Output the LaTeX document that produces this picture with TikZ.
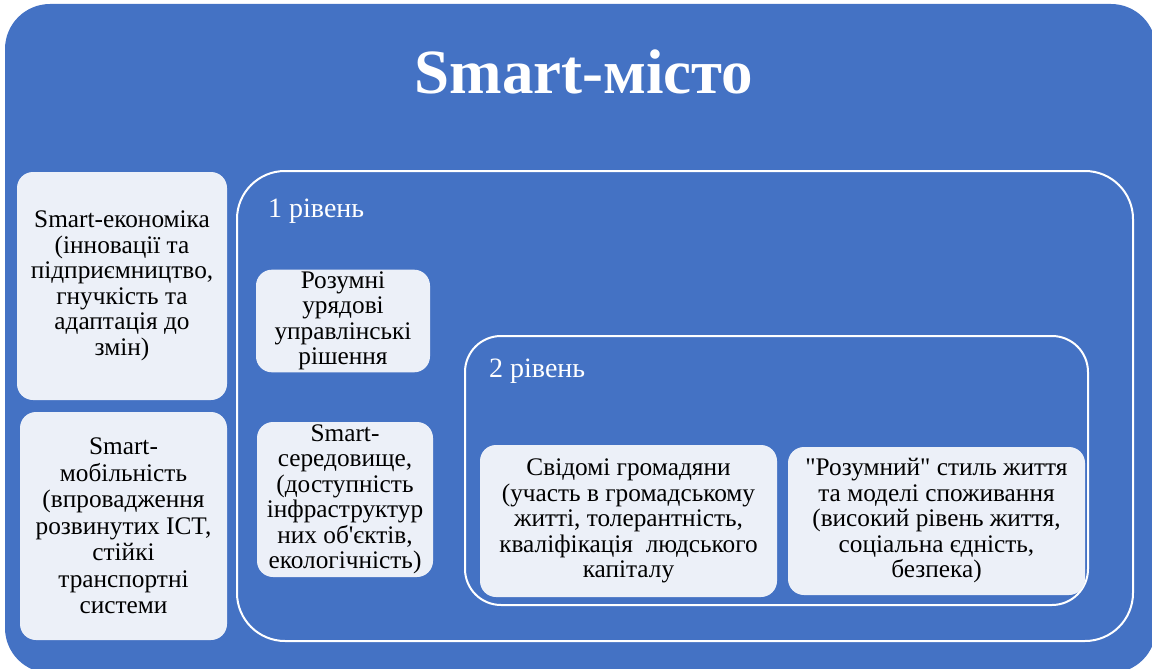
\documentclass[tikz,border=0pt]{standalone}
\usepackage{fontspec}
\setmainfont{Liberation Serif}[Ligatures=TeXOff]
\usetikzlibrary{positioning}

\definecolor{cityblue}{HTML}{4472C4}
\definecolor{boxfill}{HTML}{ECF0F8}

\tikzset{
  lbox/.style={fill=boxfill, rounded corners=16pt, align=center, text=black,
    font=\fontsize{25.3}{25.5}\selectfont, inner sep=2pt},
  frame/.style={draw=white, line width=2pt, rounded corners=48pt},
  lvl/.style={text=white, font=\fontsize{28}{30}\selectfont, anchor=base west, inner sep=0pt},
}

\begin{document}
\begin{tikzpicture}[x=1pt,y=-1pt]
\useasboundingbox (0,0) rectangle (1152,669);

%%% fond
\fill[cityblue, rounded corners=45pt] (5,4) rectangle (1156,673);
\node[text=white, font=\fontsize{63}{70}\selectfont\bfseries, anchor=base, inner sep=0pt] (title) at (584,93) {Smart-місто};

% left column
\node[lbox, minimum width=210pt, minimum height=228pt] (econ) at (122,286)
  {Smart-економіка\\(інновації та\\підприємництво,\\гнучкість та\\адаптація до\\змін)};
\node[lbox, minimum width=207pt, minimum height=228pt, font=\fontsize{25.3}{26.5}\selectfont] (mobil) at (123.5,526)
  {Smart-\\мобільність\\(впровадження\\розвинутих ICT,\\стійкі\\транспортні\\системи};

% level 1
\draw[frame] (237,171) rectangle (1133,641);
\node[lvl] (lvlone) at (268,217) {1 рівень};
\node[lbox, minimum width=174pt, minimum height=102pt] (gov) at (343,321)
  {Розумні\\урядові\\управлінські\\рішення};
\node[lbox, minimum width=176pt, minimum height=155pt] (env) at (345,499.5)
  {Smart-\\середовище,\\(доступність\\інфраструктур\\них об'єктів,\\екологічність)};

% level 2
\draw[frame, rounded corners=36pt] (465,336) rectangle (1088,605);
\node[lvl] (lvltwo) at (489,377) {2 рівень};
\node[lbox, minimum width=297pt, minimum height=152pt] (citiz) at (628.5,521)
  {Свідомі громадяни\\(участь в громадському\\житті, толерантність,\\кваліфікація\ \ людського\\капіталу};
\node[lbox, minimum width=297pt, minimum height=148pt] (life) at (936.5,521)
  {"Розумний" стиль життя\\та моделі споживання\\(високий рівень життя,\\соціальна єдність,\\безпека)};

\end{tikzpicture}
\end{document}
